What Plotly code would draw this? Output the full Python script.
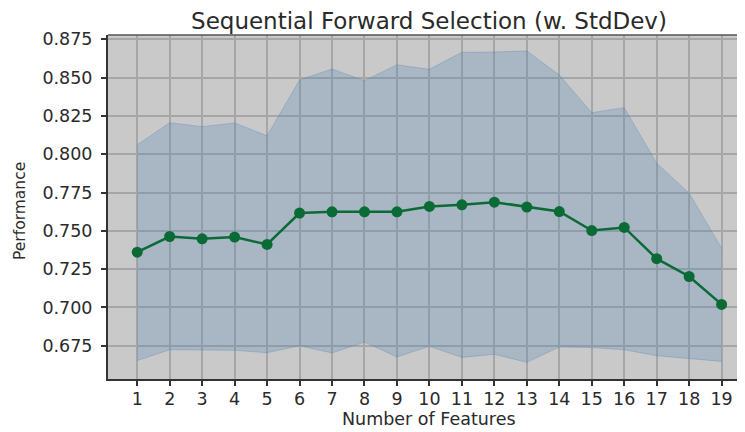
import plotly.graph_objects as go

# Sequential forward selection results
n_features = list(range(1, 20))
avg_score = [0.7361, 0.7463, 0.7448, 0.7459, 0.7411, 0.7616, 0.7624, 0.7624, 0.7624, 0.7659,
             0.7670, 0.7687, 0.7655, 0.7626, 0.7502, 0.7522, 0.7318, 0.7202, 0.7020]
upper = [0.8061, 0.8206, 0.8180, 0.8204, 0.8120, 0.8485, 0.8556, 0.8480, 0.8584, 0.8554,
         0.8665, 0.8667, 0.8674, 0.8517, 0.8271, 0.8304, 0.7941, 0.7746, 0.7387]
lower = [0.6653, 0.6724, 0.6722, 0.6720, 0.6705, 0.6750, 0.6703, 0.6774, 0.6677, 0.6746,
         0.6674, 0.6694, 0.6642, 0.6742, 0.6738, 0.6724, 0.6685, 0.6666, 0.6648]
y_ticks = [0.675, 0.700, 0.725, 0.750, 0.775, 0.800, 0.825, 0.850, 0.875]

FONT = "DejaVu Sans"
TXT = "#2a2a2a"
SPINE = "#333333"

# page body has an 8px margin, so the figure is sized/offset to compensate
W, H = 737, 424
L, T, B = 100, 27, 53
PW, PH = W - L, H - T - B  # plot area size

fig = go.Figure()

# std dev band
fig.add_trace(go.Scatter(
    x=n_features, y=upper, mode='lines',
    line=dict(color='rgba(70,130,180,0.3)', width=1),
    hoverinfo='skip', showlegend=False
))
fig.add_trace(go.Scatter(
    x=n_features, y=lower, mode='lines',
    line=dict(color='rgba(70,130,180,0.3)', width=1),
    fill='tonexty', fillcolor='rgba(70,130,180,0.25)',
    hoverinfo='skip', showlegend=False
))

# mean performance
fig.add_trace(go.Scatter(
    x=n_features, y=avg_score, mode='lines+markers',
    line=dict(color='#0b6b36', width=2.5),
    marker=dict(color='#0b6b36', size=11),
    showlegend=False
))

fig.update_layout(
    width=W, height=H,
    margin=dict(l=L, r=0, t=T, b=B),
    paper_bgcolor='white',
    plot_bgcolor='#c9c9c9',
    font=dict(family=FONT, size=17.5, color=TXT),
    title=dict(
        text="Sequential Forward Selection (w. StdDev)",
        xref='container', x=421 / W, xanchor='center',
        yref='container', y=1 - 12.5 / H, yanchor='middle',
        font=dict(family=FONT, size=23, color=TXT)
    ),
    xaxis=dict(
        range=[0.1, 19.72],
        tickmode='array', tickvals=n_features,
        showgrid=True, gridcolor='#a6a6a6', gridwidth=1.5,
        showline=True, linecolor=SPINE, linewidth=2,
        ticks='outside', ticklen=5, tickwidth=1.5, tickcolor=SPINE,
        ticklabelstandoff=-2,
        zeroline=False, automargin=False
    ),
    yaxis=dict(
        range=[0.6533, 0.8778],
        tickmode='array', tickvals=y_ticks,
        ticktext=[f"{v:.3f}" for v in y_ticks],
        showgrid=True, gridcolor='#a6a6a6', gridwidth=1.5,
        showline=True, linecolor=SPINE, linewidth=2,
        ticks='outside', ticklen=5, tickwidth=1.5, tickcolor=SPINE,
        ticklabelstandoff=5,
        zeroline=False, automargin=False
    )
)

# axis titles as annotations so the margins stay fixed
fig.add_annotation(text="Number of Features", xref='paper', yref='paper',
                   x=(429 - 108) / PW, y=-(419 - 379) / PH,
                   xanchor='center', yanchor='middle', showarrow=False,
                   font=dict(size=17.5, color=TXT))
fig.add_annotation(text="Performance", xref='paper', yref='paper',
                   x=(20 - 108) / PW, y=(379 - 211) / PH, textangle=-90,
                   xanchor='center', yanchor='middle', showarrow=False,
                   font=dict(size=15.5, color=TXT))

# top spine
fig.add_shape(type='line', xref='paper', yref='paper', x0=0, x1=1, y0=1, y1=1,
              line=dict(color='#555555', width=1.5))

fig.write_html("out.html")
